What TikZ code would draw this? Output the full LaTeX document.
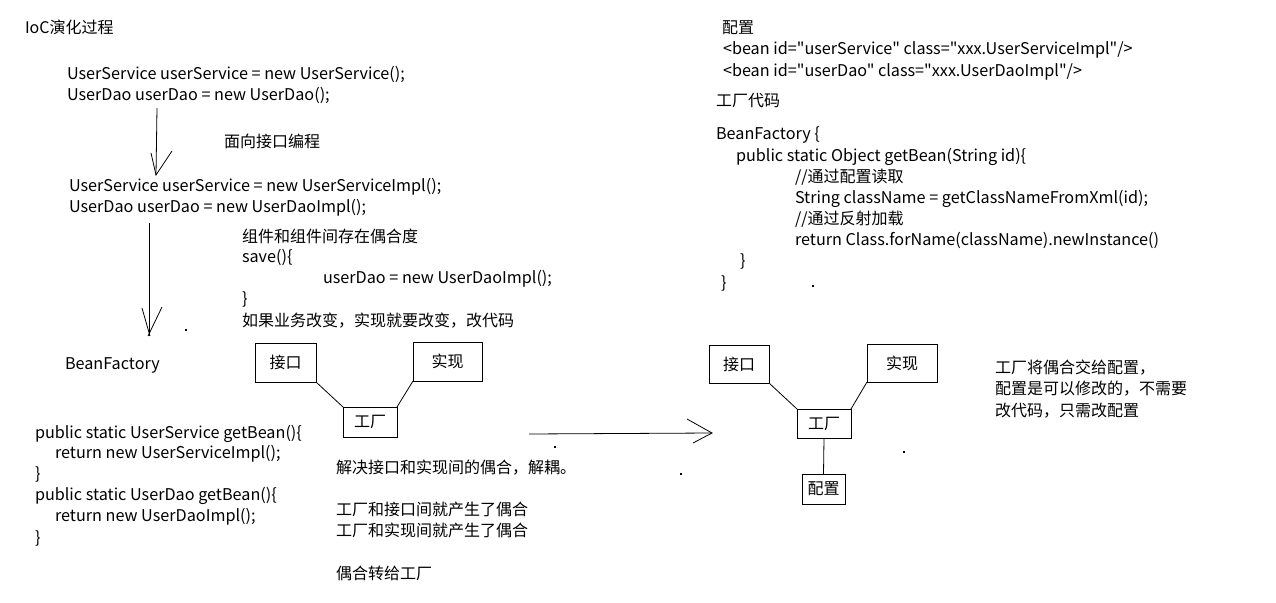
\documentclass[tikz,border=0pt]{standalone}
\usepackage{fontspec}
\setmainfont{Noto Sans CJK SC}[Ligatures=TeXOff]
\newcommand\myfs{\fontsize{16}{20}\selectfont}
\newcommand\latfs{\fontsize{16.2}{20}\selectfont}
\begin{document}
\begin{tikzpicture}[x=1pt,y=-1pt,
  txt/.style={anchor=base west, inner sep=0pt, outer sep=0pt, font=\myfs},
  lat/.style={txt, font=\latfs},
  box/.style={draw, line width=1pt, inner sep=0pt, outer sep=0pt, font=\myfs},
  ln/.style={line width=0.8pt},
  dot/.style={fill=black}]
\fill[white] (0,0) rectangle (1276,602);
\useasboundingbox (0,0) rectangle (1276,602);
% left column texts
\node[txt] (t1) at (25,34) {IoC演化过程};
\node[lat] (a1) at (67,79) {UserService userService = new UserService();};
\node[lat] (a2) at (67,100) {UserDao userDao = new UserDao();};
\node[txt] (m1) at (224,147) {面向接口编程};
\node[lat] (b1) at (69,191) {UserService userService = new UserServiceImpl();};
\node[lat] (b2) at (69,212) {UserDao userDao = new UserDaoImpl();};
\node[txt] (c1) at (242,242) {组件和组件间存在偶合度};
\node[lat] (c2) at (242,262) {save()\{};
\node[lat] (c3) at (323,283) {userDao = new UserDaoImpl();};
\node[lat] (c4) at (242,304) {\}};
\node[txt] (c5) at (242,326) {如果业务改变，实现就要改变，改代码};
\node[lat] (bf) at (65,369) {BeanFactory};
\node[lat] (d1) at (35,438) {public static UserService getBean()\{};
\node[lat] (d2) at (55,458) {return new UserServiceImpl();};
\node[lat] (d3) at (35,479) {\}};
\node[lat] (d4) at (35,500) {public static UserDao getBean()\{};
\node[lat] (d5) at (55,521) {return new UserDaoImpl();};
\node[lat] (d6) at (35,543) {\}};
\node[txt] (e1) at (336,473) {解决接口和实现间的偶合，解耦。};
\node[txt] (e2) at (336,515) {工厂和接口间就产生了偶合};
\node[txt] (e3) at (336,536) {工厂和实现间就产生了偶合};
\node[txt] (e4) at (336,579) {偶合转给工厂};
% right column texts
\node[txt] (r1) at (722,34) {配置};
\node[lat] (r2) at (723,55) {<bean id="userService" class="xxx.UserServiceImpl"/>};
\node[lat] (r3) at (723,76) {<bean id="userDao" class="xxx.UserDaoImpl"/>};
\node[txt] (r4) at (716,106) {工厂代码};
\node[lat] (r5) at (716,139) {BeanFactory \{};
\node[lat] (r6) at (736,161) {public static Object getBean(String id)\{};
\node[txt] (r7) at (795,182) {//通过配置读取};
\node[lat] (r8) at (795,203) {String className = getClassNameFromXml(id);};
\node[txt] (r9) at (795,224) {//通过反射加载};
\node[lat] (r10) at (795,245) {return Class.forName(className).newInstance()};
\node[lat] (r11) at (740,266) {\}};
\node[lat] (r12) at (721,288) {\}};
\node[txt] (s1) at (995,373) {工厂将偶合交给配置，};
\node[txt] (s2) at (995,394) {配置是可以修改的，不需要};
\node[txt] (s3) at (995,416) {改代码，只需改配置};
% boxes left
\node[box, minimum width=61pt, minimum height=39pt] (jk1) at (285.5,362.5) {接口};
\node[box, minimum width=69pt, minimum height=39pt] (sx1) at (447.5,361.5) {实现};
\node[box, minimum width=54pt, minimum height=30pt] (gc1) at (370,422) {工厂};
\draw[ln] (jk1.south east) -- (gc1.north west);
\draw[ln] (sx1.south west) -- (gc1.north east);
% boxes right
\node[box, minimum width=60pt, minimum height=38pt] (jk2) at (739,364) {接口};
\node[box, minimum width=70pt, minimum height=38pt] (sx2) at (902,363) {实现};
\node[box, minimum width=54pt, minimum height=29pt] (gc2) at (824,423.5) {工厂};
\node[box, minimum width=43pt, minimum height=30pt] (pz2) at (823.5,489) {配置};
\draw[ln] (jk2.south east) -- (gc2.north west);
\draw[ln] (sx2.south west) -- (gc2.north east);
\draw[ln] (gc2.south) -- (pz2.north);
% arrows
\coordinate (p1s) at (157,108);
\coordinate (p1e) at (156,175);
\draw[ln] (p1s) -- (p1e);
\draw[ln] (151,153) -- (p1e) -- (172,151);
\coordinate (p2s) at (149,223);
\coordinate (p2e) at (149,336);
\draw[ln] (p2s) -- (p2e);
\draw[ln] (142,308) -- (150,336);
\draw[ln] (162,307) -- (148,336);
\coordinate (p3s) at (529,434);
\coordinate (p3e) at (712,433);
\draw[ln] (p3s) -- (p3e);
\draw[ln] (687,419) -- (p3e) -- (693,443);
% stray dots
\foreach \x/\y in {186/330, 555/447, 681/474, 904/452, 813/286}
  \fill[dot] (\x-0.75,\y-0.75) rectangle (\x+0.75,\y+0.75);
\end{tikzpicture}
\end{document}
